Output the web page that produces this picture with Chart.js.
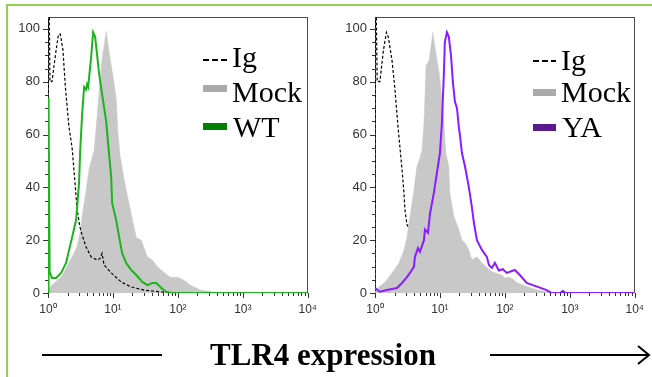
<!DOCTYPE html>
<html><head><meta charset="utf-8">
<script src="https://cdn.jsdelivr.net/npm/chart.js@4.4.1/dist/chart.umd.min.js"></script>
<style>
html,body{margin:0;padding:0;background:#fff;}
#wrap{position:relative;width:652px;height:377px;overflow:hidden;background:#fff;}
.bt{position:absolute;left:6px;top:4px;width:646px;height:2px;background:#92d050;}
.bl{position:absolute;left:6px;top:4px;width:2px;height:373px;background:#92d050;}
canvas{position:absolute;top:0;}
#c1{left:0;} #c2{left:327px;}
.lt{position:absolute;font-family:"Liberation Serif","Times New Roman",serif;font-size:30px;line-height:30px;color:#000;white-space:nowrap;}
.sw{position:absolute;width:24px;height:7px;}
.dash{position:absolute;width:24px;height:2px;background:repeating-linear-gradient(90deg,#000 0 6px,transparent 6px 9px);}
.xt{position:absolute;left:210px;top:337px;font-family:"Liberation Serif","Times New Roman",serif;font-weight:bold;font-size:31px;line-height:36px;white-space:nowrap;}
svg{position:absolute;left:0;top:0;}
</style></head>
<body><div id="wrap">
<div class="bt"></div><div class="bl"></div>
<canvas id="c1" width="326" height="345"></canvas>
<canvas id="c2" width="326" height="345"></canvas>

<div class="dash" style="left:203px;top:59px;"></div>
<div class="sw" style="left:203px;top:85px;background:#aaaaaa;"></div>
<div class="sw" style="left:203px;top:123px;background:#008000;"></div>
<div class="lt" style="left:232px;top:42px;">Ig</div>
<div class="lt" style="left:232px;top:77px;">Mock</div>
<div class="lt" style="left:233px;top:112px;">WT</div>

<div class="dash" style="left:533px;top:60px;width:23px;"></div>
<div class="sw" style="left:533px;top:89px;width:23px;background:#aaaaaa;"></div>
<div class="sw" style="left:533px;top:124px;width:23px;background:#5b1a8c;"></div>
<div class="lt" style="left:561px;top:45px;">Ig</div>
<div class="lt" style="left:561px;top:77px;">Mock</div>
<div class="lt" style="left:562px;top:112px;">YA</div>

<svg width="652" height="377">
  <line x1="42" y1="355" x2="162" y2="355" stroke="#000" stroke-width="2"/>
  <line x1="490" y1="355" x2="649" y2="355" stroke="#000" stroke-width="2"/>
  <polyline points="638,346 649,355 638,364" fill="none" stroke="#000" stroke-width="2"/>
</svg>
<div class="xt">TLR4 expression</div>
</div>
<script>
// ---- data: [fluorescence, % of max] ----
const igLeft = [[1,0],[1.01,104],[1.05,104],[1.07,80],[1.15,80],[1.3,90],[1.45,98],[1.55,98],[1.7,92],[1.85,78],[2.1,63],[2.35,55],[2.6,42],[2.8,32],[3.1,25],[3.35,22],[3.85,17.5],[4.6,13.7],[5.7,12.5],[6.3,13],[6.8,15],[7.3,10.6],[9.4,7.6],[13.4,4.2],[19,2.3],[30,1.1],[54,0.4],[100,0],[10000,0]];
const mockLeft = [[1,1],[1.15,3],[1.59,6],[1.97,10],[2.35,13.7],[2.8,17.5],[3.12,23],[3.35,29],[3.86,39],[4.3,47],[5.13,54],[5.71,67],[6.3,80],[6.83,89],[7.87,99],[8.76,91],[9.73,84],[11.2,74],[12,60],[12.9,52],[14.4,45],[16,39],[19.1,30],[22.9,21],[27.3,20],[33.9,13.7],[40.4,12.5],[48.3,10],[59.7,8],[76,6],[100,6],[130,4.5],[155,3],[222,1.1],[354,0.4],[541,0],[10000,0]];
const wtLeft = [[1,0],[1.02,74],[1.06,8],[1.15,5.7],[1.33,5.7],[1.59,7.6],[1.9,11.4],[2.11,16.3],[2.35,21],[2.71,27.7],[2.8,32],[3.01,42],[3.12,53],[3.35,67.5],[3.6,78],[3.85,77],[4.0,79],[4.15,78],[4.61,89],[4.95,98.7],[5.32,97],[6.13,83],[6.83,75],[7.87,65],[8.76,52],[9.39,44],[9.73,34],[11.2,27.7],[12.5,21],[13.9,15],[16,11.4],[19.1,8.7],[22.9,6.8],[28.3,4.2],[33.9,3],[40.4,3.8],[46.5,3.8],[55.6,1.9],[66.4,0.4],[80,0],[10000,0]];
const igRight = [[1,0],[1.01,104],[1.05,104],[1.08,80],[1.19,80],[1.35,92],[1.5,98.7],[1.6,97],[1.83,88],[2.03,77],[2.26,63],[2.6,47],[2.79,38],[2.89,31.5],[3.1,26],[3.45,24],[3.86,17.5],[4.6,13.7],[5.7,12.5],[6.8,15],[7.3,10.6],[9.4,7.6],[13.4,4.2],[19,2.3],[30,1.1],[54,0.4],[100,0],[10000,0]];
const mockRight = [[1,0.4],[1.15,2.3],[1.43,4.2],[1.83,7.6],[2.34,11.4],[2.79,16.3],[3.1,21],[3.45,29],[3.98,39],[4.42,48],[4.92,51],[5.28,54],[5.67,64],[5.88,74],[6.09,86],[6.78,88],[7.8,98.7],[8.37,93],[9.65,84],[10.7,74],[11.5,65],[12.3,53],[13.7,48],[14.2,38],[16.4,29],[19.6,24],[21.8,20],[24.3,19],[27.9,16.3],[31,12.5],[37.1,13.7],[44.3,11.4],[63,8],[89.8,6.8],[99.3,5.7],[119,6],[158,3.8],[226,2.3],[321,1.1],[458,0.4],[585,0],[10000,0]];
const yaRight = [[1,1.9],[1.19,0.5],[1.53,1.1],[2.18,1.9],[2.6,3.8],[3.1,6],[3.45,7.6],[3.98,10],[4.12,13.7],[4.59,17],[4.92,15.6],[5.67,20],[5.88,24],[6.54,22.8],[7.03,30],[8.08,38],[8.98,45.5],[10,53],[10.7,64],[11.5,83],[11.9,95],[12.8,98.7],[13.7,97],[14.8,90],[15.8,80],[17,72.5],[18.3,70],[19.6,62.6],[20.3,60],[21.8,53],[24.3,48],[27.9,40],[31,32.6],[33.4,26.5],[37.1,20],[44.3,16.3],[52.8,13.7],[56.8,10.6],[63,9.5],[70.1,11.4],[80.6,8.5],[93,9],[107,7.6],[142,8.7],[170,6.8],[217,3.8],[269,3],[321,2.3],[441,1.1],[527,0],[702,0],[781,0.8],[869,0],[10000,0]];

// ---- ticks ----
const xMajorValues = [1,10,100,1000,10000];
const xTickLabels = ['10\u2070','10\u00b9','10\u00b2','10\u00b3','10\u2074'];
const yTickLabels = ['0','20','40','60','80','100'];
const yMajorValues = [0,20,40,60,80,100];

const xTickValues = [];
for (let d = 0; d < 4; d++) for (let k = 1; k < 10; k++) xTickValues.push(k * Math.pow(10, d));
xTickValues.push(10000);
const yTickValues = [];
for (let v = 0; v <= 100; v += 5) yTickValues.push(v);

const pts = a => a.map(p => ({x: p[0], y: p[1]}));

const framePlugin = {
  id: 'frame',
  beforeDatasetsDraw(chart) {
    const {ctx, chartArea: a, scales: {x, y}} = chart;
    ctx.save();
    ctx.strokeStyle = '#4a4a4a';
    ctx.lineWidth = 1;
    ctx.strokeRect(Math.round(a.left) + 0.5, Math.round(a.top) + 0.5, Math.round(a.right - a.left) - 1, Math.round(a.bottom - a.top) - 1);
    ctx.strokeStyle = '#333';
    ctx.beginPath();
    x.ticks.forEach(t => {
      const px = Math.round(x.getPixelForValue(t.value)) + 0.5;
      const len = t.major ? 5 : 3;
      ctx.moveTo(px, a.bottom); ctx.lineTo(px, a.bottom + len);
    });
    y.ticks.forEach(t => {
      const py = Math.round(y.getPixelForValue(t.value)) + 0.5;
      const len = t.major ? 5 : 3;
      ctx.moveTo(a.left, py); ctx.lineTo(a.left - len, py);
    });
    ctx.stroke();
    ctx.restore();
  }
};

function makeChart(id, datasets) {
  return new Chart(document.getElementById(id), {
    type: 'line',
    data: {datasets},
    plugins: [framePlugin],
    options: {
      responsive: false, animation: false, devicePixelRatio: 1,
      layout: {padding: {top: 17, right: 18, left: 0, bottom: 22}},
      plugins: {legend: {display: false}, tooltip: {enabled: false}},
      elements: {point: {radius: 0}, line: {tension: 0}},
      scales: {
        x: {
          type: 'logarithmic', min: 1, max: 10000,
          afterBuildTicks: s => { s.ticks = xTickValues.map(v => ({value: v, major: xMajorValues.includes(v)})); },
          afterFit: s => { s.height = 30; },
          grid: {display: false, drawTicks: false},
          border: {display: false},
          ticks: {
            autoSkip: false, maxRotation: 0, padding: 9, color: '#333',
            font: {family: 'Liberation Sans, Arial, sans-serif', size: 12},
            callback: v => { const i = xMajorValues.indexOf(v); return i >= 0 ? xTickLabels[i] : ''; }
          }
        },
        y: {
          type: 'linear', min: 0, max: 104.5,
          afterBuildTicks: s => { s.ticks = yTickValues.map(v => ({value: v, major: yMajorValues.includes(v)})); },
          afterFit: s => { s.width = 48; },
          grid: {display: false, drawTicks: false},
          border: {display: false},
          ticks: {
            autoSkip: false, padding: 8, color: '#333',
            font: {family: 'Liberation Sans, Arial, sans-serif', size: 13},
            callback: v => { const i = yMajorValues.indexOf(v); return i >= 0 ? yTickLabels[i] : ''; }
          }
        }
      }
    }
  });
}

makeChart('c1', [
  {label: 'WT', data: pts(wtLeft), borderColor: '#1db31d', borderWidth: 2, fill: false},
  {label: 'Ig', data: pts(igLeft), borderColor: '#000', borderWidth: 1.2, borderDash: [3, 2], fill: false},
  {label: 'Mock', data: pts(mockLeft), borderColor: '#c8c8c8', borderWidth: 0.5, backgroundColor: '#c8c8c8', fill: 'origin'}
]);
makeChart('c2', [
  {label: 'YA', data: pts(yaRight), borderColor: '#8a1cff', borderWidth: 2, fill: false},
  {label: 'Mock', data: pts(mockRight), borderColor: '#c8c8c8', borderWidth: 0.5, backgroundColor: '#c8c8c8', fill: 'origin'},
  {label: 'Ig', data: pts(igRight), borderColor: '#000', borderWidth: 1.2, borderDash: [3, 2], fill: false}
]);
</script>
</body></html>
